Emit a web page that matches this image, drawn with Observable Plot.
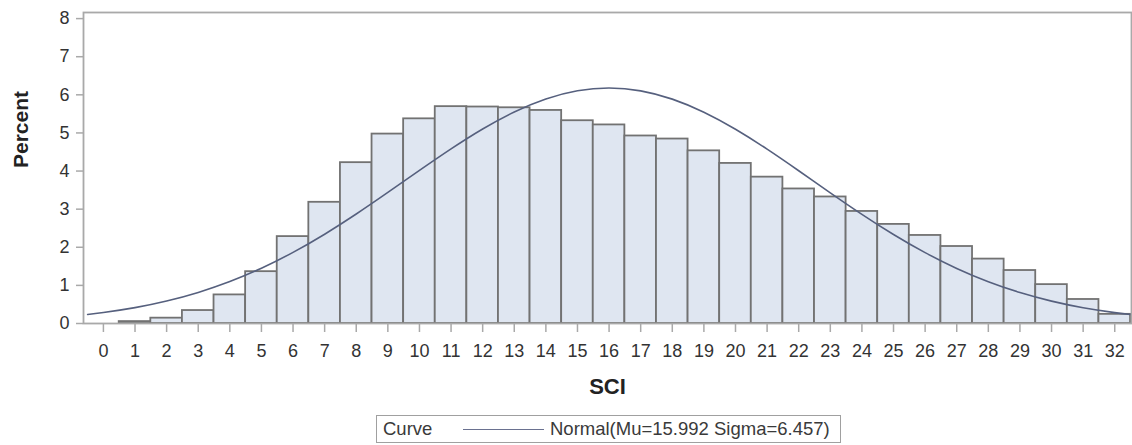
<!DOCTYPE html>
<html>
<head>
<meta charset="utf-8">
<script src="https://cdn.jsdelivr.net/npm/d3@7"></script>
<script src="https://cdn.jsdelivr.net/npm/@observablehq/plot@0.6"></script>
<style>
  body { margin: 0; background: #fff; font-family: "Liberation Sans", Arial, sans-serif; }
  #wrap { position: relative; width: 1132px; height: 445px; }
  #legend { position: absolute; left: 376px; top: 415px; width: 463px; height: 26px;
            border: 1.5px solid #a0a0a0; box-sizing: content-box; font-size: 18.5px; color: #3a3a3a; }
  #legend .lab { position: absolute; left: 6px; top: 2px; }
  #legend .sw { position: absolute; left: 86px; top: 13px; width: 81px; height: 0; border-top: 1.5px solid #6a7190; }
  #legend .txt { position: absolute; left: 173px; top: 2px; }
</style>
</head>
<body>
<div id="wrap">
  <div id="chart"></div>
  <div id="legend"><span class="lab">Curve</span><span class="sw"></span><span class="txt">Normal(Mu=15.992 Sigma=6.457)</span></div>
</div>
<script>
// Histogram of SCI (percent per value)
const sciValues = [0,1,2,3,4,5,6,7,8,9,10,11,12,13,14,15,16,17,18,19,20,21,22,23,24,25,26,27,28,29,30,31,32];
const percents  = [0,0.05,0.14,0.34,0.75,1.36,2.28,3.18,4.22,4.97,5.37,5.69,5.68,5.66,5.59,5.32,5.21,4.92,4.84,4.53,4.20,3.84,3.53,3.32,2.94,2.60,2.31,2.02,1.69,1.39,1.02,0.63,0.24];

// Fitted normal curve as drawn (Mu=15.992, Sigma=6.457), values read at these x positions
const curveX = [-0.5,0,1,2,3,4,5,6,7,8,9,10,11,12,13,14,15,16,17,18,19,20,21,22,23,24,25,26,27,28,29,30,31,32,32.5];
const curveY = [0.237,0.288,0.417,0.590,0.816,1.101,1.451,1.866,2.343,2.872,3.438,4.017,4.582,5.104,5.550,5.891,6.106,6.179,6.104,5.887,5.543,5.096,4.574,4.008,3.429,2.864,2.335,1.859,1.445,1.096,0.812,0.587,0.415,0.286,0.235];

const yTicks = [0,1,2,3,4,5,6,7,8];
const xTicks = sciValues;

const bars = sciValues.map((v, i) => ({sci: v, pct: percents[i]}));
const curve = curveX.map((v, i) => ({x: v, y: curveY[i]}));

const H = 410;
const chart = Plot.plot({
  width: 1132,
  height: H,
  marginLeft: 83,
  marginRight: 1,
  marginTop: 12,
  marginBottom: H - 323,
  style: {fontFamily: "'Liberation Sans', Arial, sans-serif", fontSize: "18px", color: "#333", background: "#fff"},
  x: {domain: [-0.63, 32.53]},
  y: {domain: [0, 8.16]},
  marks: [
    Plot.rectY(bars, {x1: d => d.sci - 0.5, x2: d => d.sci + 0.5, y: "pct",
      fill: "#dfe6f1", stroke: "#727272", strokeWidth: 1.8, inset: 0}),
    Plot.line(curve, {x: "x", y: "y", stroke: "#56607e", strokeWidth: 1.6, curve: "natural"}),
    Plot.frame({stroke: "#a9a9a9", strokeWidth: 1.8}),
    Plot.axisY({ticks: yTicks, tickSize: 7, tickPadding: 7, stroke: "#a9a9a9", strokeWidth: 1.5, label: null, fontSize: 18}),
    Plot.axisX({ticks: xTicks, tickFormat: d => String(d), tickSize: 9, tickPadding: 12, stroke: "#a9a9a9", strokeWidth: 1.5, label: null, fontSize: 18}),
    Plot.text(["SCI"], {frameAnchor: "bottom", dy: 70, fontWeight: "bold", fontSize: 22, fill: "#222"}),
    Plot.text(["Percent"], {frameAnchor: "left", dx: -62, rotate: -90, fontWeight: "bold", fontSize: 21, fill: "#222"})
  ]
});
document.getElementById("chart").appendChild(chart);
</script>
</body>
</html>
